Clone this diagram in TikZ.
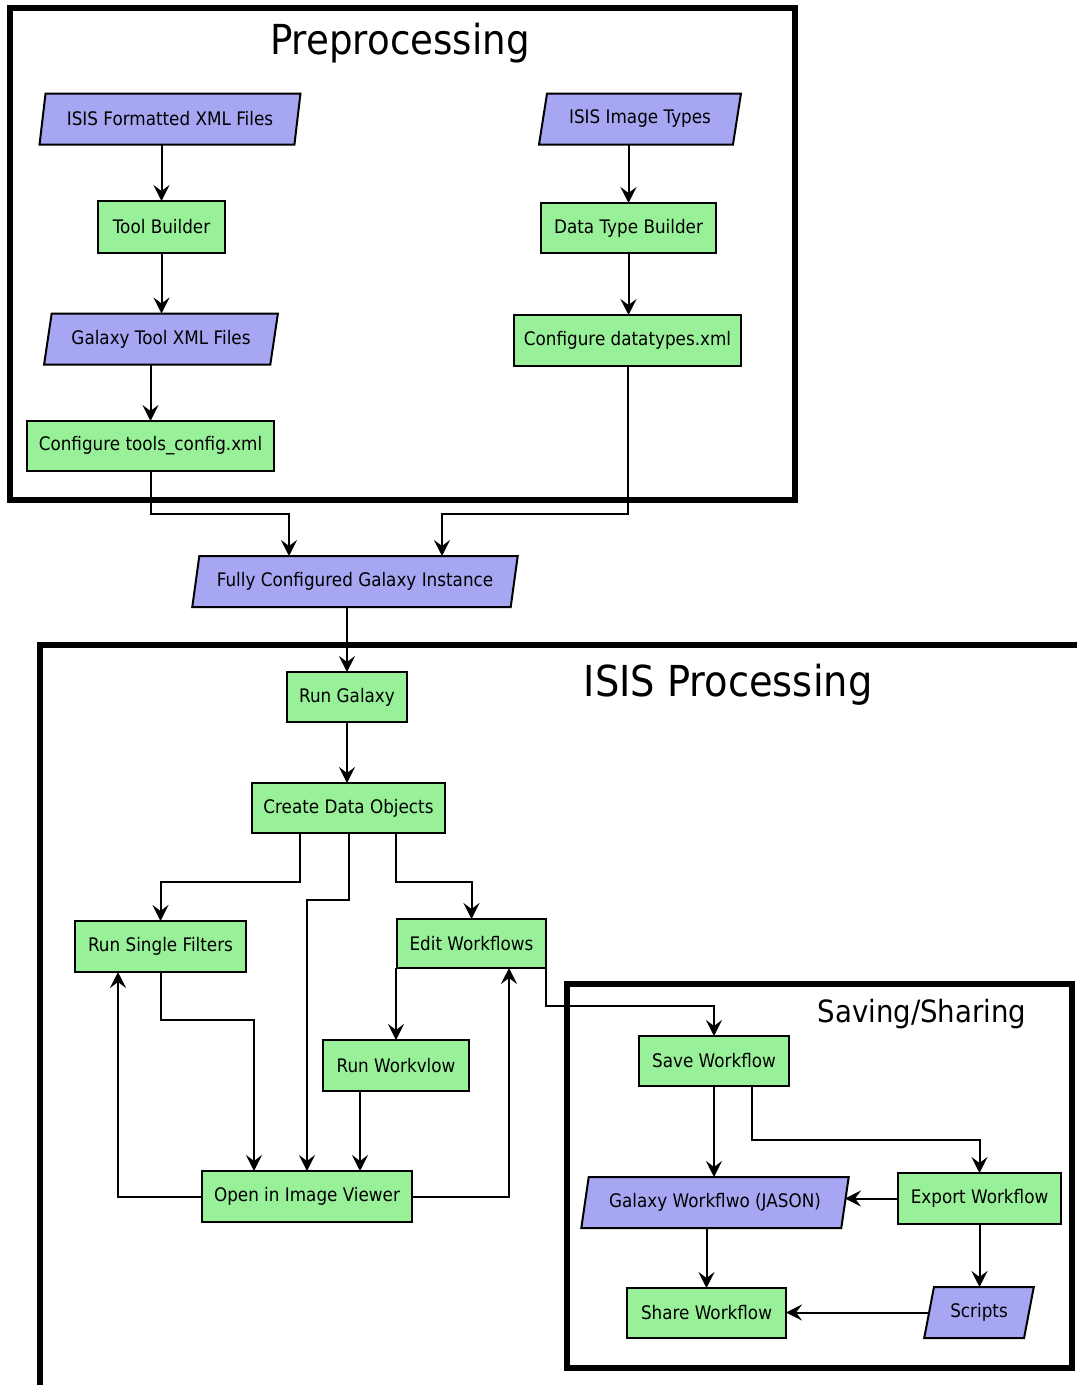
\documentclass[tikz,border=0pt]{standalone}
\usepackage{fontspec}
\setmainfont[FakeStretch=0.9]{DejaVu Sans}
\usetikzlibrary{shapes.geometric,arrows.meta,calc}
\definecolor{boxgreen}{RGB}{152,240,152}
\definecolor{boxpurple}{RGB}{166,166,242}
\begin{document}
\begin{tikzpicture}[x=0.75pt,y=-0.75pt,
  every node/.style={font=\fontsize{14}{16}\selectfont, inner sep=0pt, outer sep=0pt},
  gbox/.style={rectangle, draw=black, line width=1.5pt, fill=boxgreen},
  pbox/.style={trapezium, trapezium left angle=71, trapezium right angle=109, trapezium stretches=true, draw=black, line width=1.5pt, fill=boxpurple},
  frame/.style={draw=black, line width=3.8pt},
  ttl/.style={font=\fontsize{32}{36}\selectfont},
  arr/.style={draw=black, line width=1.5pt, -{Stealth[length=12pt,width=12pt,inset=4.5pt]}}
]
\useasboundingbox (0,0) rectangle (1076,1385);
% frames
\draw[frame] (10,8) rectangle (795,500);
\draw[frame] (40,1390) -- (40,645) -- (1080,645);
\draw[frame] (567,984) rectangle (1072,1368);
\node[font=\fontsize{31}{35}\selectfont] (tpre) at (400,43) {Preprocessing};
\node[ttl] (tisis) at (728,685) {ISIS Processing};
\node[font=\fontsize{23}{27}\selectfont] (tsave) at (922,1014) {Saving/Sharing};
% nodes
\node[pbox, minimum width=195.75pt, minimum height=38.25pt] (ifx) at (170,119) {ISIS Formatted XML Files};
\node[gbox, minimum width=95.25pt, minimum height=39pt] (tb) at (161.5,227) {Tool Builder};
\node[pbox, minimum width=175.5pt, minimum height=38.25pt] (gtx) at (161,339) {Galaxy Tool XML Files};
\node[gbox, minimum width=185.25pt, minimum height=37.5pt] (tc) at (150.5,446) {Configure tools\_config.xml};
\node[pbox, minimum width=151.5pt, minimum height=38.25pt] (iit) at (640,119) {ISIS Image Types};
\node[gbox, minimum width=131.25pt, minimum height=37.5pt] (dtb) at (628.5,228) {Data Type Builder};
\node[gbox, minimum width=170.25pt, minimum height=38.25pt] (cdt) at (627.5,340.5) {Configure datatypes.xml};
\node[pbox, minimum width=244.5pt, minimum height=38.25pt] (fcg) at (355,581.5) {Fully Configured Galaxy Instance};
\node[gbox, minimum width=90pt, minimum height=37.5pt] (rg) at (347,697) {Run Galaxy};
\node[gbox, minimum width=144.75pt, minimum height=37.5pt] (cdo) at (348.5,808) {Create Data Objects};
\node[gbox, minimum width=128.25pt, minimum height=38.25pt] (rsf) at (160.5,946.5) {Run Single Filters};
\node[gbox, minimum width=111.75pt, minimum height=36.75pt] (ew) at (471.5,943.5) {Edit Workflows};
\node[gbox, minimum width=109.5pt, minimum height=38.25pt] (rw) at (396,1065.5) {Run Workvlow};
\node[gbox, minimum width=157.5pt, minimum height=38.25pt] (oiv) at (307,1196.5) {Open in Image Viewer};
\node[gbox, minimum width=112.5pt, minimum height=37.5pt] (sw) at (714,1061) {Save Workflow};
\node[pbox, minimum width=201pt, minimum height=38.25pt] (gwf) at (715,1202.5) {Galaxy Workflwo (JASON)};
\node[gbox, minimum width=122.25pt, minimum height=38.25pt] (exw) at (979.5,1198.5) {Export Workflow};
\node[pbox, minimum width=82.5pt, minimum height=38.25pt] (scr) at (979,1312.5) {Scripts};
\node[gbox, minimum width=119.25pt, minimum height=37.5pt] (shw) at (706.5,1313) {Share Workflow};
% junction coordinates
\coordinate (j1) at (289,514);
\coordinate (j2) at (442,514);
\coordinate (j3) at (300,882);
\coordinate (j4) at (348.5,900);
\coordinate (j5) at (396,882);
\coordinate (j6) at (254,1020);
\coordinate (j7) at (118,1196.5);
\coordinate (j8) at (509,1196.5);
\coordinate (j9) at (360,1120);
\coordinate (j10) at (714,1006);
\coordinate (j11) at (752,1140);
% connectors
\draw[arr] (ifx.south -| tb.north) -- (tb.north);
\draw[arr] (tb.south) -- (tb.south |- gtx.north);
\draw[arr] (tc.north |- gtx.south) -- (tc.north);
\draw[arr] (dtb.north |- iit.south) -- (dtb.north);
\draw[arr] (dtb.south) -- (dtb.south |- cdt.north);
\draw[arr] (tc.south) |- (j1) -- (j1 |- fcg.north);
\draw[arr] (cdt.south) |- (j2) -- (j2 |- fcg.north);
\draw[arr] (rg.north |- fcg.south) -- (rg.north);
\draw[arr] (rg.south) -- (rg.south |- cdo.north);
\draw[arr] (j3 |- cdo.south) -- (j3) -| (rsf.north);
\draw[arr] (cdo.south) -- (j4) -| (oiv.north);
\draw[arr] (j5 |- cdo.south) -- (j5) -| (ew.north);
\draw[arr] (rsf.south) |- (j6) -- (j6 |- oiv.north);
\draw[arr] (oiv.west) -- (j7) -- (j7 |- rsf.south);
\draw[arr] (oiv.east) -- (j8) -- (j8 |- ew.south);
\draw[arr] (ew.south -| rw.north) -- (rw.north);
\draw[arr] (j9 |- rw.south) -- (j9 |- oiv.north);
\draw[arr] (ew.south east) |- (j10) -- (sw.north);
\draw[arr] (sw.south) -- (sw.south |- gwf.north);
\draw[arr] (j11 |- sw.south) -- (j11) -| (exw.north);
\draw[arr] (exw.west) -- (exw.west -| gwf.east);
\draw[arr] (exw.south) -- (exw.south |- scr.north);
\draw[arr] (scr.west) -- (scr.west -| shw.east);
\draw[arr] (shw.north |- gwf.south) -- (shw.north);
\end{tikzpicture}
\end{document}
